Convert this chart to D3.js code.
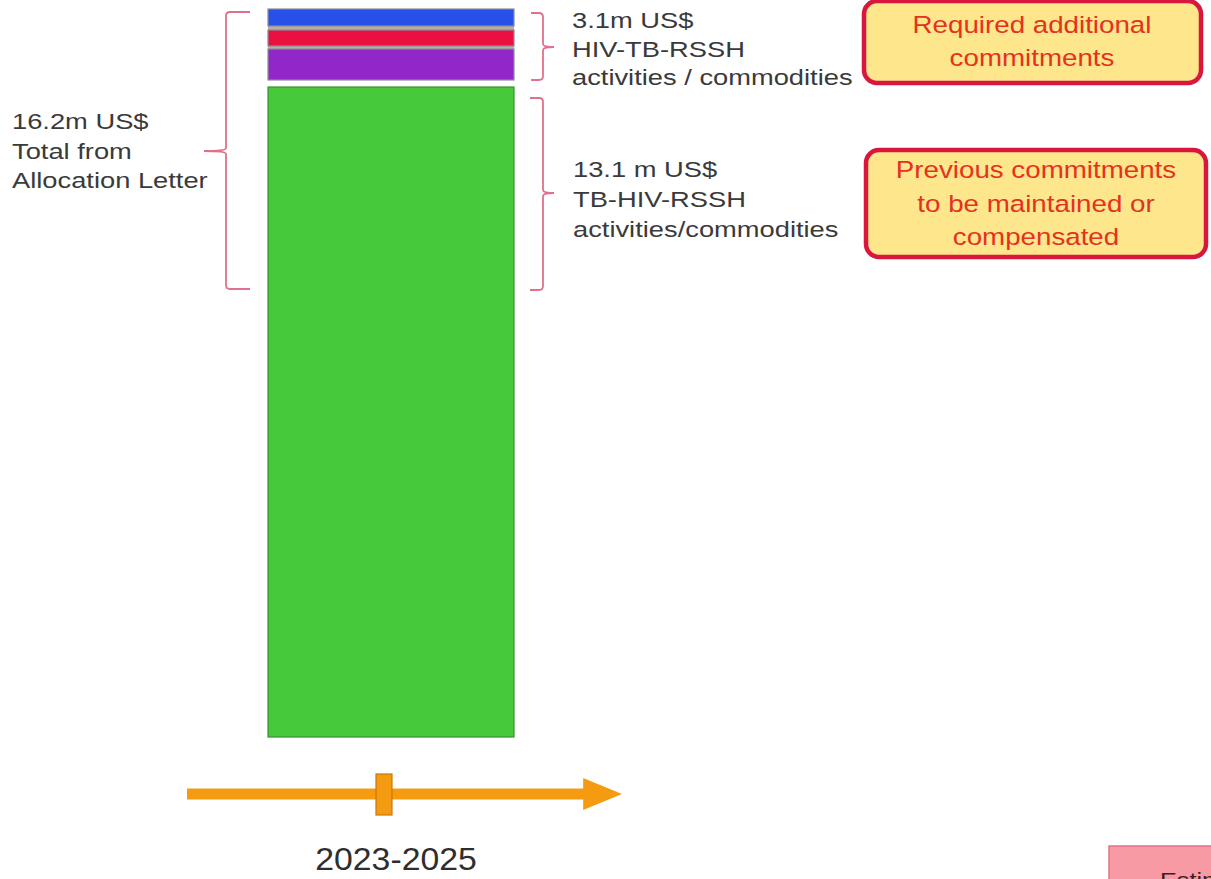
<!DOCTYPE html>
<html>
<head>
<meta charset="utf-8">
<script src="https://cdn.jsdelivr.net/npm/d3@7"></script>
<style>
html,body{margin:0;padding:0;background:#fff;overflow:hidden;}
svg{display:block;}
</style>
</head>
<body>
<svg id="chart" width="1211" height="879"></svg>
<script>
// ---- data (relative visual heights) ----
const segmentNames = ["Previous commitments (green)", "Additional purple", "Additional red", "Additional blue"];
const segmentValues = [650, 31, 16, 17];
const segmentColors = ["#46c93a", "#9127c9", "#ea1040", "#2650e6"];
const periodLabels = ["2023-2025"];
const totalLabel = ["16.2m US$", "Total from", "Allocation Letter"];
const additionalLabel = ["3.1m US$", "HIV-TB-RSSH", "activities / commodities"];
const previousLabel = ["13.1 m US$", "TB-HIV-RSSH", "activities/commodities"];
const requiredBoxText = ["Required additional", "commitments"];
const previousBoxText = ["Previous commitments", "to be maintained or", "compensated"];
const cornerBoxText = ["Estimated"];

// ---- layout/style constants ----
const gaps = [0, 7, 3, 4]; // space below each segment
const svg = d3.select("#chart");
const font = "'Liberation Sans', Arial, sans-serif";

// stacked positions
let acc = 0;
const stacked = segmentValues.map((v, i) => {
  acc += gaps[i];
  const s = { name: segmentNames[i], y0: acc, y1: acc + v, color: segmentColors[i], i };
  acc += v;
  return s;
});
const total = acc;

const y = d3.scaleLinear().domain([0, total]).range([737, 9]);
const x = d3.scaleBand().domain(periodLabels).range([268, 514]).padding(0);

// grey filler between top segments
const topStart = stacked[1].y1, topEnd = stacked[3].y0;
svg.append("rect")
  .attr("x", x(periodLabels[0])).attr("width", x.bandwidth())
  .attr("y", y(topEnd)).attr("height", y(topStart) - y(topEnd))
  .attr("fill", "#b4b0a6");

svg.selectAll("rect.seg").data(stacked).join("rect")
  .attr("class", "seg")
  .attr("x", x(periodLabels[0]))
  .attr("width", x.bandwidth())
  .attr("y", d => y(d.y1))
  .attr("height", d => y(d.y0) - y(d.y1))
  .attr("fill", d => d.color)
  .attr("stroke", d => d.i === 0 ? "#3a8f30" : "#8c8c96")
  .attr("stroke-width", 1.2);

// ---- braces ----
const braceColor = "#e0708c";
function brace(xEdge, xSpine, xTip, yTop, yBot, yMid) {
  const r = 4;
  const dir = Math.sign(xEdge - xSpine);
  const p = d3.path();
  p.moveTo(xEdge, yTop);
  p.lineTo(xSpine + dir * r, yTop);
  p.quadraticCurveTo(xSpine, yTop, xSpine, yTop + r);
  p.lineTo(xSpine, yMid - 3);
  p.quadraticCurveTo(xSpine, yMid, xTip, yMid);
  p.quadraticCurveTo(xSpine, yMid, xSpine, yMid + 3);
  p.lineTo(xSpine, yBot - r);
  p.quadraticCurveTo(xSpine, yBot, xSpine + dir * r, yBot);
  p.lineTo(xEdge, yBot);
  svg.append("path").attr("d", p.toString())
    .attr("fill", "none").attr("stroke", braceColor).attr("stroke-width", 1.8);
}
brace(250, 226, 204, 12, 289, 151);
brace(531, 543, 554, 13, 80, 47);
brace(530, 543, 554, 98, 290, 193);

// ---- text helper ----
function textLines(lines, xPos, baselines, opts) {
  const g = svg.append("g");
  lines.forEach((t, i) => {
    g.append("text")
      .attr("transform", `translate(${xPos},${baselines[i]}) scale(${opts.sx},1)`)
      .attr("text-anchor", opts.anchor || "start")
      .attr("font-family", font)
      .attr("font-size", opts.size)
      .attr("fill", opts.color)
      .text(t);
  });
}
const grey = "#3a3a3a";
textLines(totalLabel, 12, [129, 159, 188], { sx: 1.27, size: 21.5, color: grey });
textLines(additionalLabel, 572, [28, 57, 85], { sx: 1.27, size: 21.5, color: grey });
textLines(previousLabel, 573, [177, 207, 237], { sx: 1.27, size: 21.5, color: grey });

// ---- red boxes ----
function box(bx, by, bw, bh) {
  svg.append("rect").attr("x", bx).attr("y", by).attr("width", bw).attr("height", bh)
    .attr("rx", 13).attr("fill", "#fde68c").attr("stroke", "#d9163e").attr("stroke-width", 4.5);
}
box(864, 1, 337, 82);
box(866, 150, 340, 107);
const boxRed = "#e5321e";
textLines(requiredBoxText, 1032, [33, 66], { sx: 1.18, size: 23.5, color: boxRed, anchor: "middle" });
textLines(previousBoxText, 1036, [178, 212, 245], { sx: 1.18, size: 23.5, color: boxRed, anchor: "middle" });

// ---- timeline arrow ----
const orange = "#f59b12";
const tl = d3.scaleLinear().domain([0, 1]).range([187, 622]);
svg.append("line").attr("x1", tl(0)).attr("x2", tl(0.92)).attr("y1", 794).attr("y2", 794)
  .attr("stroke", orange).attr("stroke-width", 11);
svg.append("path")
  .attr("d", `M${tl(0.92) - 4},778 L${tl(1)},794 L${tl(0.92) - 4},810 Z`)
  .attr("fill", orange);
svg.append("rect").attr("x", 376).attr("y", 774).attr("width", 16).attr("height", 41)
  .attr("fill", orange).attr("stroke", "#c9780a").attr("stroke-width", 1.2);
textLines(periodLabels, x(periodLabels[0]) + x.bandwidth() / 2 + 5, [870], { sx: 1.09, size: 31, color: "#2e2e2e", anchor: "middle" });

// ---- corner box ----
svg.append("rect").attr("x", 1109).attr("y", 846).attr("width", 130).attr("height", 60)
  .attr("fill", "#f89aa4").attr("stroke", "#e07486").attr("stroke-width", 1.5);
textLines(cornerBoxText, 1160, [887], { sx: 1.2, size: 21, color: "#3a2020" });
</script>
</body>
</html>
